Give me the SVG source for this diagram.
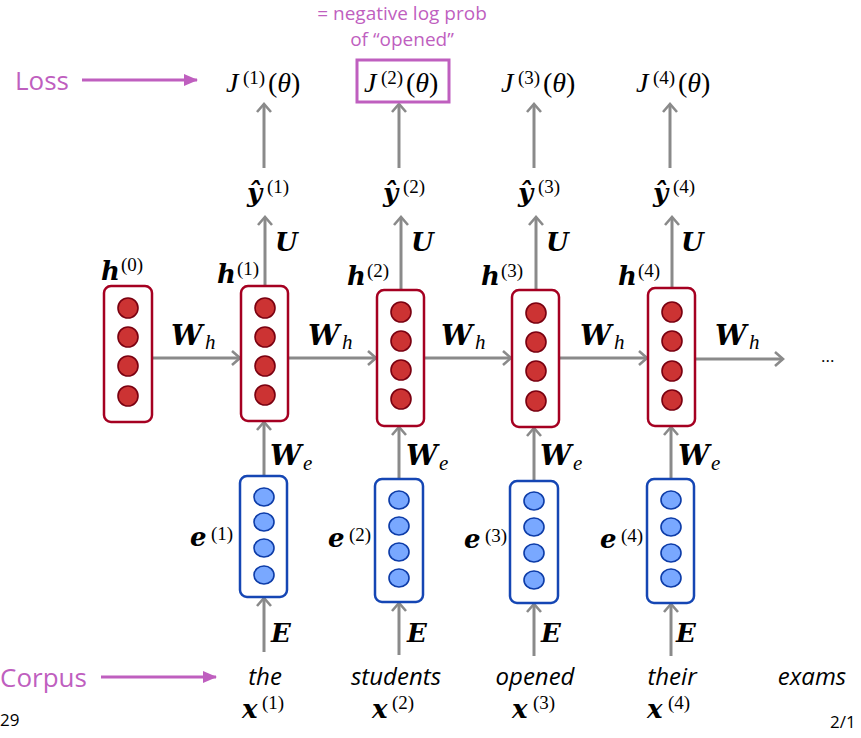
<svg xmlns="http://www.w3.org/2000/svg" width="861" height="738" viewBox="0 0 861 738">
<style>
.hb{fill:#fff;stroke:#a50021;stroke-width:2.5}
.hc{fill:#cc3333;stroke:#7a0010;stroke-width:1.6}
.eb{fill:#fff;stroke:#1546b4;stroke-width:2.5}
.ec{fill:#79a8ff;stroke:#0d3ca8;stroke-width:1.6}
.ar{fill:none;stroke:#8a8a8a;stroke-width:3;marker-end:url(#ah)}
.pa{fill:none;stroke:#bf5fbf;stroke-width:3.2;marker-end:url(#ap)}
.bv{font-family:"DejaVu Serif",serif;font-weight:bold;font-style:italic;font-size:26px;fill:#000}
.bw{font-family:"DejaVu Serif",serif;font-weight:bold;font-style:italic;font-size:28px;fill:#000}
.mi{font-family:"Liberation Serif",serif;font-style:italic;font-size:28px;fill:#000}
.sub{font-family:"Liberation Serif",serif;font-style:italic;font-size:21px;fill:#000}
.sup{font-family:"Liberation Serif",serif;font-size:19px;fill:#000}
.rm{font-family:"Liberation Serif",serif;font-size:28px;fill:#000}
.pt{font-family:"Open Sans",sans-serif;fill:#bf5fbf}
.wd{font-family:"Open Sans",sans-serif;font-style:italic;font-size:24px;fill:#000}
.pg{font-family:"Open Sans",sans-serif;font-size:17px;fill:#000}
</style>
<defs>
<marker id="ah" markerUnits="userSpaceOnUse" markerWidth="20" markerHeight="20" refX="10" refY="10" orient="auto" viewBox="0 0 20 20"><path d="M2,3 L10,10 L2,17" fill="none" stroke="#8a8a8a" stroke-width="2.6"/></marker>
<marker id="ap" markerUnits="userSpaceOnUse" markerWidth="20" markerHeight="20" refX="13" refY="10" orient="auto" viewBox="0 0 20 20"><path d="M0,4 L14,10 L0,16 z" fill="#bf5fbf"/></marker>
</defs>

<g id="connectors">
<line class="pa" x1="82" y1="80" x2="197" y2="80"/>
<line class="pa" x1="101" y1="677" x2="216" y2="677"/>
<line class="ar" x1="152" y1="358" x2="240" y2="358"/>
<line class="ar" x1="288" y1="358" x2="376" y2="358"/>
<line class="ar" x1="424" y1="358" x2="511" y2="358"/>
<line class="ar" x1="559" y1="358" x2="647" y2="358"/>
<line class="ar" x1="695" y1="359" x2="783" y2="359"/>
<line class="ar" x1="265" y1="286" x2="265" y2="217"/>
<line class="ar" x1="401" y1="290" x2="401" y2="217"/>
<line class="ar" x1="536" y1="290" x2="536" y2="217"/>
<line class="ar" x1="672" y1="288" x2="672" y2="217"/>
<line class="ar" x1="264" y1="168" x2="264" y2="104"/>
<line class="ar" x1="399" y1="168" x2="399" y2="104"/>
<line class="ar" x1="534" y1="168" x2="534" y2="104"/>
<line class="ar" x1="670" y1="168" x2="670" y2="104"/>
<line class="ar" x1="264" y1="476" x2="264" y2="422"/>
<line class="ar" x1="399" y1="479" x2="399" y2="427"/>
<line class="ar" x1="534" y1="481" x2="534" y2="428"/>
<line class="ar" x1="671" y1="479" x2="671" y2="427"/>
<line class="ar" x1="264" y1="652" x2="264" y2="598"/>
<line class="ar" x1="399" y1="655" x2="399" y2="603"/>
<line class="ar" x1="534" y1="656" x2="534" y2="604"/>
<line class="ar" x1="671" y1="656" x2="671" y2="604"/>
</g>

<g id="annotations">
<text class="pt" x="15" y="90" font-size="26">Loss</text>
<text class="pt" x="0" y="687" font-size="26">Corpus</text>
<text class="pt" x="402" y="20" font-size="19" text-anchor="middle">= negative log prob</text>
<text class="pt" x="402" y="46" font-size="19" text-anchor="middle">of “opened”</text>
<text class="pg" x="0" y="726">29</text>
<text class="pg" x="830" y="728">2/1</text>
<text class="pg" x="821" y="362">...</text>
</g>

<g id="loss1"><text class="mi" x="226" y="92">J</text><text class="sup" x="243" y="84">(1)</text><text class="rm" x="268" y="92">(<tspan font-style="italic">θ</tspan>)</text></g>
<g id="loss2"><rect x="357" y="60" width="92" height="42" fill="none" stroke="#bf5fbf" stroke-width="3"/><text class="mi" x="364" y="92">J</text><text class="sup" x="381" y="84">(2)</text><text class="rm" x="406" y="92">(<tspan font-style="italic">θ</tspan>)</text></g>
<g id="loss3"><text class="mi" x="501" y="92">J</text><text class="sup" x="518" y="84">(3)</text><text class="rm" x="543" y="92">(<tspan font-style="italic">θ</tspan>)</text></g>
<g id="loss4"><text class="mi" x="636" y="92">J</text><text class="sup" x="653" y="84">(4)</text><text class="rm" x="678" y="92">(<tspan font-style="italic">θ</tspan>)</text></g>

<g id="yhat1"><text class="bv" x="247" y="202">ŷ</text><text class="sup" x="267" y="193">(1)</text></g>
<g id="yhat2"><text class="bv" x="383" y="202">ŷ</text><text class="sup" x="403" y="193">(2)</text></g>
<g id="yhat3"><text class="bv" x="518" y="202">ŷ</text><text class="sup" x="538" y="193">(3)</text></g>
<g id="yhat4"><text class="bv" x="653" y="202">ŷ</text><text class="sup" x="673" y="193">(4)</text></g>

<g id="labelsU">
<text class="bv" x="275" y="251">U</text>
<text class="bv" x="411" y="251">U</text>
<text class="bv" x="546" y="251">U</text>
<text class="bv" x="681" y="251">U</text>
</g>
<g id="labelsWh">
<text class="bw" x="171" y="345">W</text><text class="sub" x="205" y="349">h</text>
<text class="bw" x="308" y="345">W</text><text class="sub" x="342" y="349">h</text>
<text class="bw" x="441" y="345">W</text><text class="sub" x="475" y="349">h</text>
<text class="bw" x="580" y="345">W</text><text class="sub" x="614" y="349">h</text>
<text class="bw" x="715" y="345">W</text><text class="sub" x="749" y="349">h</text>
</g>
<g id="labelsWe">
<text class="bw" x="270" y="465">W</text><text class="sub" x="303" y="470">e</text>
<text class="bw" x="406" y="465">W</text><text class="sub" x="439" y="470">e</text>
<text class="bw" x="540" y="465">W</text><text class="sub" x="573" y="470">e</text>
<text class="bw" x="678" y="465">W</text><text class="sub" x="711" y="470">e</text>
</g>
<g id="labelsE">
<text class="bv" x="271" y="642">E</text>
<text class="bv" x="407" y="642">E</text>
<text class="bv" x="541" y="642">E</text>
<text class="bv" x="676" y="642">E</text>
</g>

<g id="h0">
<text class="bv" x="101" y="280">h</text><text class="sup" x="121" y="271">(0)</text>
<rect class="hb" x="104" y="286" width="48" height="136" rx="7"/>
<circle class="hc" cx="128" cy="308" r="10"/><circle class="hc" cx="128" cy="337" r="10"/><circle class="hc" cx="128" cy="366" r="10"/><circle class="hc" cx="128" cy="396" r="10"/>
</g>
<g id="h1">
<text class="bv" x="217" y="283">h</text><text class="sup" x="237" y="275">(1)</text>
<rect class="hb" x="241" y="286" width="47" height="135" rx="7"/>
<circle class="hc" cx="265" cy="308" r="10"/><circle class="hc" cx="265" cy="337" r="10"/><circle class="hc" cx="265" cy="366" r="10"/><circle class="hc" cx="265" cy="395" r="10"/>
</g>
<g id="h2">
<text class="bv" x="347" y="285">h</text><text class="sup" x="367" y="277">(2)</text>
<rect class="hb" x="377" y="290" width="47" height="136" rx="7"/>
<circle class="hc" cx="401" cy="312" r="10"/><circle class="hc" cx="401" cy="341" r="10"/><circle class="hc" cx="401" cy="370" r="10"/><circle class="hc" cx="401" cy="399" r="10"/>
</g>
<g id="h3">
<text class="bv" x="481" y="285">h</text><text class="sup" x="501" y="277">(3)</text>
<rect class="hb" x="512" y="290" width="47" height="137" rx="7"/>
<circle class="hc" cx="536" cy="313" r="10"/><circle class="hc" cx="536" cy="342" r="10"/><circle class="hc" cx="536" cy="371" r="10"/><circle class="hc" cx="536" cy="401" r="10"/>
</g>
<g id="h4">
<text class="bv" x="618" y="285">h</text><text class="sup" x="638" y="277">(4)</text>
<rect class="hb" x="648" y="288" width="47" height="138" rx="7"/>
<circle class="hc" cx="672" cy="312" r="10"/><circle class="hc" cx="672" cy="341" r="10"/><circle class="hc" cx="672" cy="371" r="10"/><circle class="hc" cx="672" cy="400" r="10"/>
</g>

<g id="e1">
<text class="bv" x="190" y="546">e</text><text class="sup" x="211" y="540">(1)</text>
<rect class="eb" x="240" y="476" width="47" height="121" rx="7"/>
<ellipse class="ec" cx="264" cy="497" rx="10" ry="9"/><ellipse class="ec" cx="264" cy="522" rx="10" ry="9"/><ellipse class="ec" cx="264" cy="548" rx="10" ry="9"/><ellipse class="ec" cx="264" cy="575" rx="10" ry="9"/>
</g>
<g id="e2">
<text class="bv" x="328" y="547">e</text><text class="sup" x="349" y="541">(2)</text>
<rect class="eb" x="375" y="479" width="48" height="123" rx="7"/>
<ellipse class="ec" cx="399" cy="500" rx="10" ry="9"/><ellipse class="ec" cx="399" cy="526" rx="10" ry="9"/><ellipse class="ec" cx="399" cy="552" rx="10" ry="9"/><ellipse class="ec" cx="399" cy="578" rx="10" ry="9"/>
</g>
<g id="e3">
<text class="bv" x="464" y="548">e</text><text class="sup" x="485" y="542">(3)</text>
<rect class="eb" x="510" y="481" width="48" height="122" rx="7"/>
<ellipse class="ec" cx="534" cy="501" rx="10" ry="9"/><ellipse class="ec" cx="534" cy="527" rx="10" ry="9"/><ellipse class="ec" cx="534" cy="553" rx="10" ry="9"/><ellipse class="ec" cx="534" cy="580" rx="10" ry="9"/>
</g>
<g id="e4">
<text class="bv" x="600" y="548">e</text><text class="sup" x="621" y="542">(4)</text>
<rect class="eb" x="647" y="479" width="47" height="124" rx="7"/>
<ellipse class="ec" cx="671" cy="500" rx="10" ry="9"/><ellipse class="ec" cx="671" cy="527" rx="10" ry="9"/><ellipse class="ec" cx="671" cy="553" rx="10" ry="9"/><ellipse class="ec" cx="671" cy="578" rx="10" ry="9"/>
</g>

<g id="x1"><text class="wd" x="265" y="685" text-anchor="middle">the</text><text class="bv" x="242" y="718">x</text><text class="sup" x="262" y="709">(1)</text></g>
<g id="x2"><text class="wd" x="396" y="685" text-anchor="middle">students</text><text class="bv" x="372" y="718">x</text><text class="sup" x="392" y="709">(2)</text></g>
<g id="x3"><text class="wd" x="535" y="685" text-anchor="middle">opened</text><text class="bv" x="512" y="718">x</text><text class="sup" x="533" y="709">(3)</text></g>
<g id="x4"><text class="wd" x="672" y="685" text-anchor="middle">their</text><text class="bv" x="647" y="718">x</text><text class="sup" x="668" y="709">(4)</text></g>
<g id="x5"><text class="wd" x="812" y="685" text-anchor="middle">exams</text></g>
</svg>
